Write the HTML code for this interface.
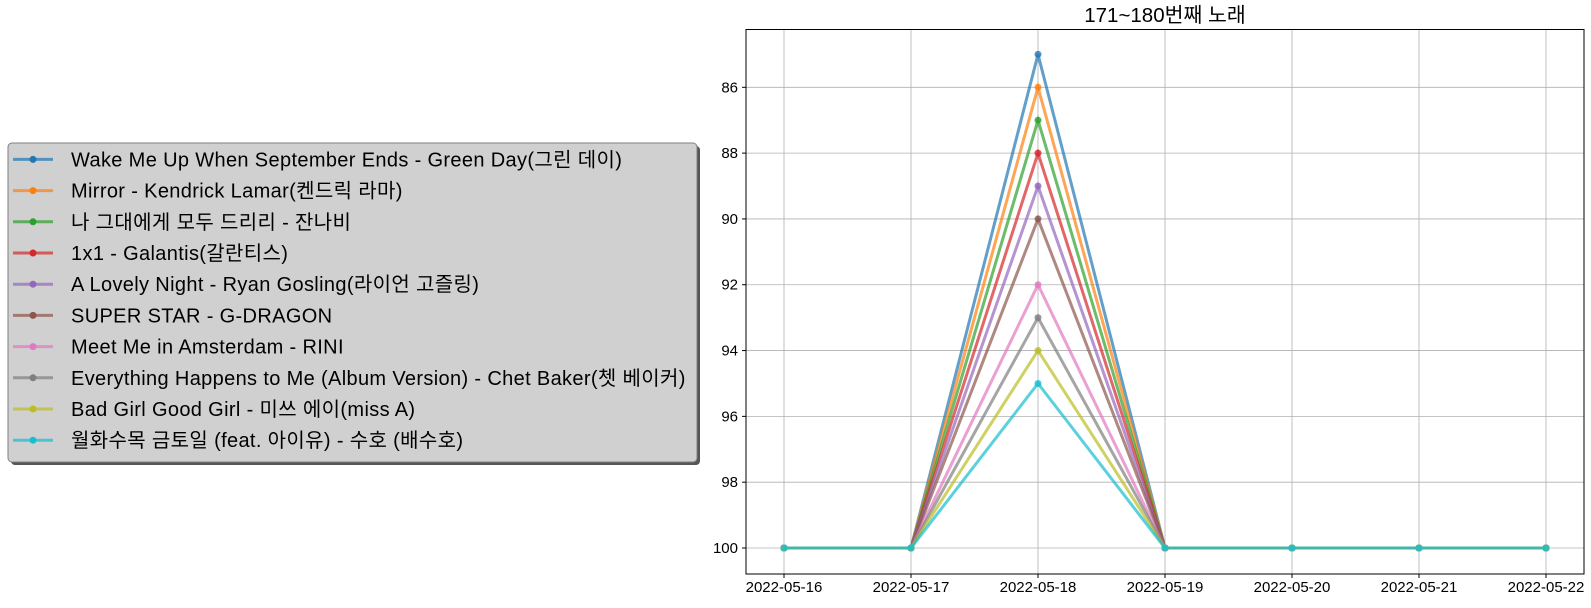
<!DOCTYPE html>
<html><head><meta charset="utf-8"><style>
body{margin:0;background:#fff;width:1591px;height:603px;overflow:hidden;font-family:"Liberation Sans","Noto Sans CJK KR",sans-serif}
</style></head><body>
<svg width="1591" height="603" font-family="Liberation Sans, Noto Sans CJK KR, sans-serif">
<g id="legend"></g>
<g id="plot"></g>
</svg>
<script>
const dates=["2022-05-16","2022-05-17","2022-05-18","2022-05-19","2022-05-20","2022-05-21","2022-05-22"];
const names=["Wake Me Up When September Ends - Green Day(그린 데이)","Mirror - Kendrick Lamar(켄드릭 라마)","나 그대에게 모두 드리리 - 잔나비","1x1 - Galantis(갈란티스)","A Lovely Night - Ryan Gosling(라이언 고즐링)","SUPER STAR - G-DRAGON","Meet Me in Amsterdam - RINI","Everything Happens to Me (Album Version) - Chet Baker(쳇 베이커)","Bad Girl Good Girl - 미쓰 에이(miss A)","월화수목 금토일 (feat. 아이유) - 수호 (배수호)"];
const peaks=[85,86,87,88,89,90,92,93,94,95];
const yTicks=[86,88,90,92,94,96,98,100];
const colors=["#1f77b4","#ff7f0e","#2ca02c","#d62728","#9467bd","#8c564b","#e377c2","#7f7f7f","#bcbd22","#17becf"];
const NS="http://www.w3.org/2000/svg";
function mk(t,a,p){const e=document.createElementNS(NS,t);for(const k in a)e.setAttribute(k,a[k]);p.appendChild(e);return e;}
const L=746,R=1584,T=29.5,B=574;
const x=i=>784+i*127;
const y=v=>87.3+(v-86)*(548-87.3)/14;
const plot=document.getElementById('plot');
dates.forEach((d,i)=>{
 const g=mk('line',{x1:x(i),x2:x(i),y1:T,y2:B,stroke:'#b0b0b0','stroke-width':0.8},plot);
 
 
 mk('line',{x1:x(i),x2:x(i),y1:B,y2:B+4,stroke:'#000'},plot);
 const t=mk('text',{x:x(i),y:B+18,'text-anchor':'middle','font-size':15,fill:'#000'},plot);t.textContent=d;
 
 
});
yTicks.forEach(v=>{
 const g=mk('line',{x1:L,x2:R,y1:y(v),y2:y(v),stroke:'#b0b0b0','stroke-width':0.8},plot);
 
 
 mk('line',{x1:L-4,x2:L,y1:y(v),y2:y(v),stroke:'#000'},plot);
 const t=mk('text',{x:L-8,y:y(v)+5,'text-anchor':'end','font-size':15,fill:'#000'},plot);t.textContent=v;
 
 
});
names.forEach((n,s)=>{
 const vals=dates.map((d,i)=>i==2?peaks[s]:100);
 const pl=mk('polyline',{points:vals.map((v,i)=>x(i)+','+y(v)).join(' '),fill:'none',stroke:colors[s],'stroke-width':3,'stroke-opacity':0.7},plot);
 
 
 vals.forEach((v,i)=>{const c=mk('circle',{cx:x(i),cy:y(v),r:3.5,fill:colors[s],'fill-opacity':0.8},plot);
 
 });
});
mk('rect',{x:L,y:T,width:R-L,height:B-T,fill:'none',stroke:'#000','stroke-width':1},plot);
const title=mk('text',{x:(L+R)/2,y:22,'text-anchor':'middle','font-size':20.5,fill:'#000'},plot);title.textContent='171~180번째 노래';


const lg=document.getElementById('legend');
mk('rect',{x:11,y:146,width:689,height:319,rx:4,fill:'#555'},lg);
mk('rect',{x:8,y:143,width:689,height:319,rx:4,fill:'#d0d0d0',stroke:'#808080'},lg);
names.forEach((n,s)=>{
 const yy=159.4+s*31.2;
 const e=mk('g',{},lg);
 
 
 mk('line',{x1:13,x2:53,y1:yy,y2:yy,stroke:colors[s],'stroke-width':3,'stroke-opacity':0.7},e);
 mk('circle',{cx:33,cy:yy,r:3.5,fill:colors[s]},e);
 const t=mk('text',{x:71,y:yy+7,'font-size':20,'letter-spacing':0.35,fill:'#000'},e);t.textContent=n;
});
</script>
</body></html>
